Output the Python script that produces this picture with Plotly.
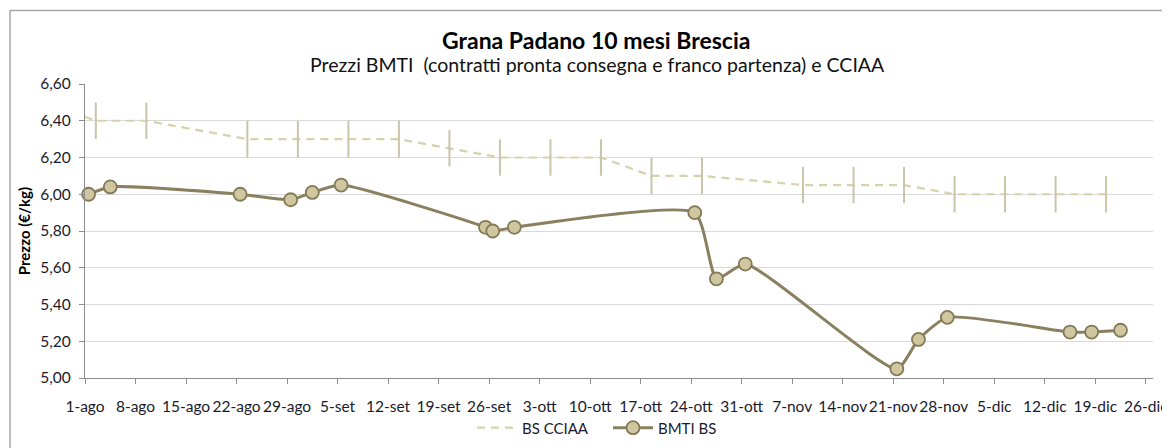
import plotly.graph_objects as go
import pandas as pd

# ---- data ----
cciaa_dates = ["2017-07-26", "2017-08-02", "2017-08-09", "2017-08-23", "2017-08-30", "2017-09-06",
               "2017-09-13", "2017-09-20", "2017-09-27", "2017-10-04", "2017-10-11", "2017-10-18",
               "2017-10-25", "2017-11-08", "2017-11-15", "2017-11-22", "2017-11-29", "2017-12-06",
               "2017-12-13", "2017-12-20"]
cciaa_values = [6.50, 6.40, 6.40, 6.30, 6.30, 6.30, 6.30, 6.25, 6.20, 6.20, 6.20, 6.10,
                6.10, 6.05, 6.05, 6.05, 6.00, 6.00, 6.00, 6.00]

bmti_dates = ["2017-08-01", "2017-08-04", "2017-08-22", "2017-08-29", "2017-09-01", "2017-09-05",
              "2017-09-25", "2017-09-26", "2017-09-29", "2017-10-24", "2017-10-27", "2017-10-31",
              "2017-11-21", "2017-11-24", "2017-11-28", "2017-12-15", "2017-12-18", "2017-12-22"]
bmti_values = [6.00, 6.04, 6.00, 5.97, 6.01, 6.05, 5.82, 5.80, 5.82, 5.90, 5.54, 5.62,
               5.05, 5.21, 5.33, 5.25, 5.25, 5.26]

tick_labels = ["1-ago", "8-ago", "15-ago", "22-ago", "29-ago", "5-set", "12-set", "19-set",
               "26-set", "3-ott", "10-ott", "17-ott", "24-ott", "31-ott", "7-nov", "14-nov",
               "21-nov", "28-nov", "5-dic", "12-dic", "19-dic", "26-dic"]

title = "Grana Padano 10 mesi Brescia"
subtitle = "Prezzi BMTI  (contratti pronta consegna e franco partenza) e CCIAA"

# ---- axis helpers (Excel-like: each day centred in its slot) ----
t0 = pd.Timestamp("2017-07-31 12:00")
tickvals = [t0 + pd.Timedelta(days=7 * i) for i in range(len(tick_labels))]
x_range = [t0, t0 + pd.Timedelta(days=148)]

FONT = "Lato"
TXT = "#1a1a2e"
fig = go.Figure()

fig.add_trace(go.Scatter(
    x=pd.to_datetime(cciaa_dates), y=cciaa_values, mode="lines+markers", name="BS CCIAA",
    line=dict(color="#d8d1ac", width=2.2, dash="8px,6px"),
    marker=dict(symbol="line-ns", size=26, line=dict(color="#c9c4aa", width=2)),
    showlegend=False, hoverinfo="x+y"))
fig.add_trace(go.Scatter(
    x=[None], y=[None], mode="lines", name="BS CCIAA",
    line=dict(color="#d8d1ac", width=2.2, dash="8px,6px")))

fig.add_trace(go.Scatter(
    x=pd.to_datetime(bmti_dates), y=bmti_values, mode="lines+markers", name="BMTI BS",
    line=dict(color="#8a7f5e", width=3, shape="spline", smoothing=0.55),
    marker=dict(symbol="circle", size=13, color="#cfc7a0", line=dict(color="#857a58", width=1.8)),
    cliponaxis=False))

W, H = 1170, 448
OFF = 8  # page body margin
# target page-pixel plot box
P_L, P_R, P_T, P_B = 85, 1153, 83.5, 378
L, T = P_L - OFF, P_T - OFF
R = W - (P_R - OFF)
B = H - (P_B - OFF)
pw, ph = W - L - R, H - T - B

def py(p):
    return (P_B - p) / ph

def px(p):
    return (p - P_L) / pw

fig.update_layout(
    width=W, height=H,
    margin=dict(l=L, r=R, t=T, b=B, autoexpand=False),
    paper_bgcolor="white", plot_bgcolor="white",
    separators=",.",
    font=dict(family=FONT, size=15, color=TXT),
    showlegend=True,
    legend=dict(orientation="h", x=px(472), xanchor="left", y=py(428), yanchor="middle",
                font=dict(family=FONT, size=15, color=TXT), itemwidth=40,
                entrywidth=81, entrywidthmode="pixels",
                bgcolor="rgba(0,0,0,0)"),
    xaxis=dict(type="date", range=x_range, tickvals=tickvals, ticktext=tick_labels,
               automargin=False, ticklabelstandoff=9,
               showgrid=False, showline=True, linecolor="#8c8c8c", linewidth=1.2,
               ticks="outside", ticklen=5, tickcolor="#8c8c8c", tickangle=0,
               tickfont=dict(family=FONT, size=15.5, color=TXT), zeroline=False),
    yaxis=dict(range=[5.0, 6.6], dtick=0.2, tickformat=".2f", automargin=False,
               ticklabelstandoff=5,
               showgrid=True, gridcolor="#d9d9d9", gridwidth=1,
               showline=True, linecolor="#8c8c8c", linewidth=1.2,
               ticks="outside", ticklen=5, tickcolor="#8c8c8c",
               tickfont=dict(family=FONT, size=15.5, color=TXT), zeroline=False),
    annotations=[
        dict(text="<b>" + title + "</b>", x=px(596), y=py(39), xref="paper", yref="paper",
             showarrow=False, font=dict(family=FONT, size=23, color="#000000"),
             xanchor="center", yanchor="middle"),
        dict(text=subtitle, x=px(597), y=py(64), xref="paper", yref="paper",
             showarrow=False, font=dict(family=FONT, size=19.5, color="#111111"),
             xanchor="center", yanchor="middle"),
        dict(text="<b>Prezzo (€/kg)</b>", x=px(24), y=py(231), xref="paper", yref="paper",
             showarrow=False, textangle=-90, font=dict(family=FONT, size=15, color="#000000"),
             xanchor="center", yanchor="middle"),
    ],
    shapes=[dict(type="rect", xref="paper", yref="paper",
                 x0=px(10), x1=px(1200), y0=py(480), y1=py(10),
                 line=dict(color="#a6a6a6", width=1.5), fillcolor="rgba(0,0,0,0)",
                 layer="below")],
)

fig.write_html("out.html")
